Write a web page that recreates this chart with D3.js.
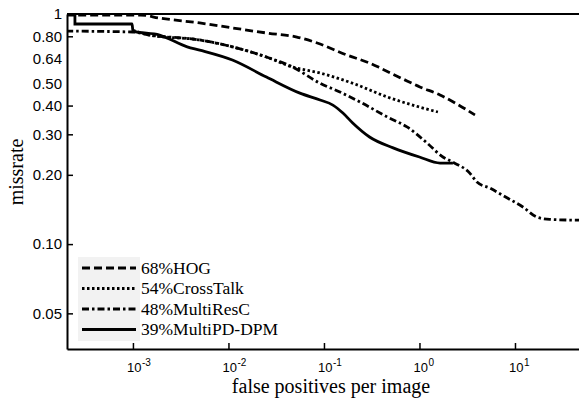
<!DOCTYPE html>
<html>
<head>
<meta charset="utf-8">
<script src="https://cdn.jsdelivr.net/npm/d3@7"></script>
<style>
  body { margin: 0; background: #fff; }
  svg { display: block; }
</style>
</head>
<body>
<svg id="chart" width="579" height="400"></svg>
<script>
// fppi / miss rate pairs
const hog = [
  [2.0e-4, 0.99], [1.2e-3, 0.99], [1.9e-3, 0.96], [5.0e-3, 0.914], [0.011, 0.87],
  [0.025, 0.827], [0.052, 0.794], [0.085, 0.748], [0.174, 0.663], [0.30, 0.612],
  [0.39, 0.582], [0.67, 0.522], [1.01, 0.482], [1.64, 0.445], [2.47, 0.406],
  [3.81, 0.364]
];
const crossTalk = [
  [1.0e-3, 0.85], [1.5e-3, 0.81], [5.0e-3, 0.771], [0.011, 0.72], [0.025, 0.65],
  [0.047, 0.588], [0.091, 0.554], [0.20, 0.50], [0.46, 0.436], [1.0, 0.394],
  [1.56, 0.375]
];
const multiResC = [
  [2.0e-4, 0.843], [1.0e-3, 0.835], [1.5e-3, 0.81], [5.0e-3, 0.771], [0.011, 0.72],
  [0.025, 0.65], [0.047, 0.588], [0.091, 0.50], [0.147, 0.458], [0.24, 0.414],
  [0.46, 0.357], [0.74, 0.323], [1.2, 0.275], [1.76, 0.239], [2.24, 0.227],
  [3.38, 0.203], [4.0, 0.186], [5.47, 0.175], [8.24, 0.159], [12.1, 0.145],
  [17.0, 0.131], [23.2, 0.128], [46.8, 0.127]
];
const multiPD = [
  [2.47e-4, 1.0], [2.47e-4, 0.905], [9.8e-4, 0.905], [1.0e-3, 0.843], [1.9e-3, 0.81],
  [3.7e-3, 0.72], [5.0e-3, 0.697], [0.011, 0.631], [0.025, 0.532], [0.056, 0.453],
  [0.091, 0.423], [0.124, 0.402], [0.158, 0.371], [0.20, 0.336], [0.30, 0.292],
  [0.53, 0.262], [1.0, 0.239], [1.64, 0.225], [2.24, 0.225]
];

const legendLabels = ['68%HOG', '54%CrossTalk', '48%MultiResC', '39%MultiPD-DPM'];
const xTicks = [1e-3, 1e-2, 1e-1, 1, 10];
const xTickExp = ['-3', '-2', '-1', '0', '1'];
const yTicks = [1, 0.8, 0.64, 0.5, 0.4, 0.3, 0.2, 0.1, 0.05];
const yTickLabels = ['1', '0.80', '0.64', '0.50', '0.40', '0.30', '0.20', '0.10', '0.05'];
const yNoTick = [1, 0.64, 0.5];

const plotLeft = 67, plotTop = 14, plotRight = 579, plotBottom = 349;

const svg = d3.select('#chart');

const x = d3.scaleLog().domain([2.04e-4, 46.8]).range([plotLeft, plotRight]);
const y = d3.scaleLog().domain([0.035, 1]).range([plotBottom, plotTop]);

// legend backdrop
svg.append('rect')
  .attr('x', 78).attr('y', 257).attr('width', 62).attr('height', 84)
  .attr('fill', '#f2f2f2');

// axes
const xAxis = svg.append('g')
  .attr('transform', `translate(0,${plotBottom})`)
  .call(d3.axisBottom(x).tickValues(xTicks).tickSizeInner(-6).tickSizeOuter(0).tickFormat(''));
xAxis.select('.domain').attr('stroke-width', 2);
xAxis.selectAll('.tick line').attr('stroke-width', 1.5);

xAxis.selectAll('.tick')
  .append('text')
  .attr('x', -6.5)
  .attr('y', 23)
  .attr('fill', '#000')
  .attr('text-anchor', 'start')
  .style('font-family', '"Liberation Sans", Arial, sans-serif')
  .style('font-size', '13px')
  .each(function (d, i) {
    const t = d3.select(this);
    t.append('tspan').text('10');
    t.append('tspan').attr('dy', -6).attr('dx', 0.5).style('font-size', '10px').text(xTickExp[i]);
  });

const yAxis = svg.append('g')
  .attr('transform', `translate(${plotLeft},0)`)
  .call(d3.axisLeft(y).tickValues(yTicks).tickSizeInner(-6).tickSizeOuter(0).tickPadding(5)
    .tickFormat((d, i) => yTickLabels[i]));
yAxis.select('.domain').attr('stroke-width', 2);
yAxis.selectAll('.tick line')
  .attr('stroke-width', 1.5)
  .attr('display', d => yNoTick.includes(d) ? 'none' : null);
yAxis.selectAll('.tick text')
  .attr('fill', '#000')
  .style('font-family', '"Liberation Sans", Arial, sans-serif')
  .style('font-size', '15px');

// top frame line
svg.append('line')
  .attr('x1', plotLeft).attr('x2', plotRight).attr('y1', plotTop).attr('y2', plotTop)
  .attr('stroke', '#000').attr('stroke-width', 2);

// curves
svg.append('clipPath').attr('id', 'plotclip')
  .append('rect').attr('x', plotLeft).attr('y', plotTop)
  .attr('width', plotRight - plotLeft).attr('height', plotBottom - plotTop);

const line = d3.line().curve(d3.curveMonotoneX).x(d => x(d[0])).y(d => y(d[1]));

const series = [
  { data: hog, dash: '8,4' },
  { data: crossTalk, dash: '2.5,2.5' },
  { data: multiResC, dash: '7,3,2.5,3' },
  { data: multiPD, dash: null }
];

svg.append('g').attr('clip-path', 'url(#plotclip)')
  .selectAll('path')
  .data(series)
  .join('path')
  .attr('d', d => line(d.data))
  .attr('fill', 'none')
  .attr('stroke', '#000')
  .attr('stroke-width', 2.8)
  .attr('stroke-dasharray', d => d.dash);

// legend
const legend = svg.append('g');
series.forEach((s, i) => {
  const ly = 268 + i * 20.5;
  legend.append('line')
    .attr('x1', 82).attr('x2', 136).attr('y1', ly).attr('y2', ly)
    .attr('stroke', '#000').attr('stroke-width', 3)
    .attr('stroke-dasharray', s.dash);
  legend.append('text')
    .attr('x', 141).attr('y', ly + 5.5)
    .style('font-family', '"Liberation Serif", "Times New Roman", serif')
    .style('font-size', '17.5px')
    .text(legendLabels[i]);
});

// axis titles
svg.append('text')
  .attr('x', 331).attr('y', 393)
  .attr('text-anchor', 'middle')
  .style('font-family', '"Liberation Serif", "Times New Roman", serif')
  .style('font-size', '20px')
  .text('false positives per image');

svg.append('text')
  .attr('transform', 'translate(23,172) rotate(-90)')
  .attr('text-anchor', 'middle')
  .style('font-family', '"Liberation Serif", "Times New Roman", serif')
  .style('font-size', '20px')
  .text('missrate');
</script>
</body>
</html>
